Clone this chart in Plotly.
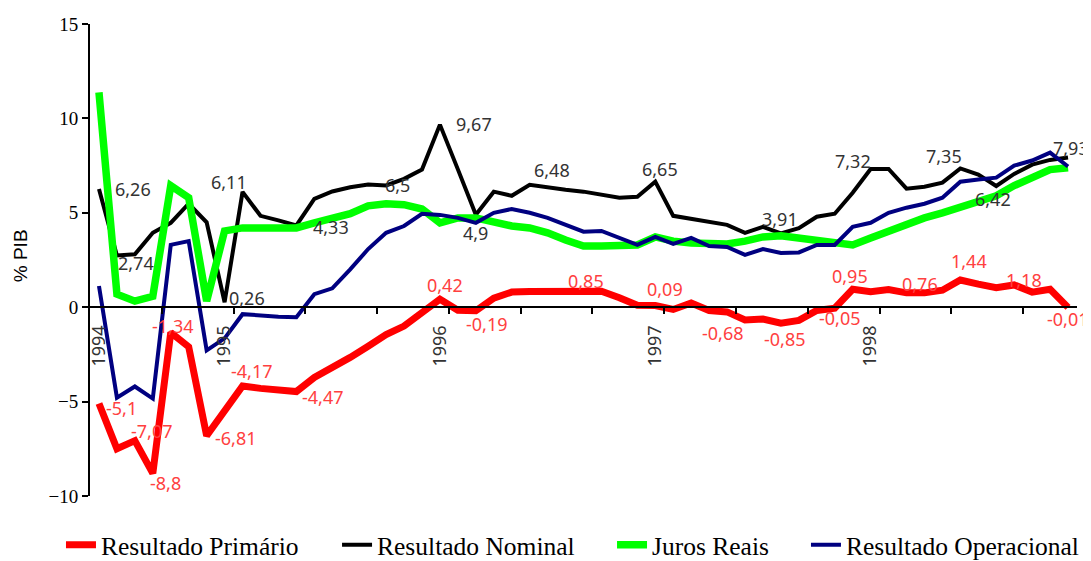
import plotly.graph_objects as go

# ---- data (monthly, Jun/1994 .. Dec/1998) ----
year_labels = ["1994", "1995", "1996", "1997", "1998"]
year_positions = [0, 7, 19, 31, 43]

primario = [-5.1, -7.5, -7.07, -8.8, -1.34, -2.1, -6.81, -5.5, -4.17, -4.3,
            -4.4, -4.47, -3.72, -3.24, -2.66, -2.07, -1.45, -1.0, -0.3, 0.42,
            -0.16, -0.19, 0.48, 0.8, 0.83, 0.82, 0.84, 0.85, 0.85, 0.5,
            0.1, 0.09, -0.12, 0.22, -0.18, -0.25, -0.68, -0.63, -0.85, -0.7,
            -0.17, -0.05, 0.95, 0.82, 0.93, 0.76, 0.76, 0.9, 1.44, 1.22,
            1.03, 1.18, 0.8, 0.95, -0.01]

nominal = [6.26, 2.74, 2.8, 3.94, 4.47, 5.48, 4.5, 0.26, 6.11, 4.84,
           4.6, 4.33, 5.74, 6.13, 6.35, 6.5, 6.45, 6.8, 7.29, 9.67,
           7.3, 4.9, 6.12, 5.9, 6.48, 6.33, 6.22, 6.12, 5.96, 5.8,
           5.85, 6.65, 4.84, 4.68, 4.57, 4.36, 3.94, 4.26, 3.91, 4.18,
           4.79, 4.95, 6.06, 7.32, 7.32, 6.28, 6.38, 6.6, 7.35, 7.02,
           6.42, 7.06, 7.55, 7.8, 7.93]

juros = [11.38, 0.69, 0.32, 0.58, 6.44, 5.8, 0.32, 4.04, 4.2, 4.2,
         4.2, 4.2, 4.47, 4.73, 4.95, 5.37, 5.48, 5.43, 5.2, 4.47,
         4.73, 4.73, 4.52, 4.3, 4.2, 3.94, 3.56, 3.24, 3.24, 3.24,
         3.3, 3.72, 3.5, 3.4, 3.35, 3.35, 3.5, 3.72, 3.78, 3.67,
         3.5, 3.46, 3.3, 3.67, 4.04, 4.41, 4.73, 5.0, 5.32, 5.58,
         5.9, 6.44, 6.91, 7.29, 7.39]

operacional = [1.12, -4.79, -4.2, -4.84, 3.3, 3.5, -2.29, -1.65, -0.37, -0.45,
               -0.5, -0.53, 0.69, 1.0, 2.0, 3.08, 3.94, 4.3, 4.95, 4.89,
               4.73, 4.47, 5.0, 5.2, 5.0, 4.73, 4.36, 4.0, 4.04, 3.67,
               3.3, 3.72, 3.35, 3.67, 3.24, 3.19, 2.77, 3.08, 2.87, 2.9,
               3.3, 3.3, 4.26, 4.47, 5.0, 5.27, 5.48, 5.8, 6.65, 6.76,
               6.86, 7.5, 7.77, 8.19, 7.45]

series_names = ["Resultado Primário", "Resultado Nominal", "Juros Reais", "Resultado Operacional"]

# labelled points: (index, xshift, yshift)
nominal_labels = [(0, 34, 0), (1, 19, -8), (7, 22, 4), (8, -14, 10), (11, 35, -2),
                  (15, 29, -1), (19, 34, 1), (21, 0, -18), (24, 22, 15), (31, 5, 13),
                  (38, -1, 14), (43, -18, 8), (48, -16, 12), (50, -3, -13), (54, 3, 9)]
primario_labels = [(0, 23, -5), (2, 17, 10), (3, 13, -10), (4, 2, 7), (6, 29, -2),
                   (8, 9, 15), (11, 27, -5), (19, 5, 14), (21, 11, -13), (27, 2, 10),
                   (31, 10, 17), (36, -22, -13), (38, 4, -16), (41, 5, -10), (42, -3, 13),
                   (45, 13, 9), (48, 9, 19), (51, 10, 5), (54, 0, -12)]

n = len(primario)
x = list(range(n))

fig = go.Figure()
styles = [
    (primario, "#ff0000", 7, "legend", -0.0294),
    (nominal, "#000000", 4, "legend2", 0.2503),
    (juros, "#00ff00", 7.5, "legend3", 0.5289),
    (operacional, "#000080", 4, "legend4", 0.7254),
]
for (vals, color, w, leg, _), name in zip(styles, series_names):
    fig.add_trace(go.Scatter(x=x, y=vals, mode="lines", name=name, legend=leg,
                             line=dict(color=color, width=w)))

def fmt(v):
    return f"{v:g}".replace(".", ",")

annotations = []
for idx, dx, dy in nominal_labels:
    annotations.append(dict(x=idx, y=nominal[idx], xref="x", yref="y", text=fmt(nominal[idx]),
                            showarrow=False, xshift=dx, yshift=dy,
                            font=dict(family="Noto Sans", size=18, color="#333333")))
for idx, dx, dy in primario_labels:
    annotations.append(dict(x=idx, y=primario[idx], xref="x", yref="y", text=fmt(primario[idx]),
                            showarrow=False, xshift=dx, yshift=dy,
                            font=dict(family="Noto Sans", size=18, color="#ff4040")))
annotations.append(dict(x=-0.0709, y=0.508, xref="paper", yref="paper", text="% PIB",
                        xanchor="center", yanchor="middle",
                        textangle=-90, showarrow=False,
                        font=dict(family="Liberation Sans", size=19, color="#000000")))

minor_ticks = [i + 3.5 for i in range(0, n - 3, 4)]

legend_common = dict(orientation="h", xanchor="left", y=-0.104, yanchor="middle",
                     font=dict(family="Liberation Serif", size=25.5, color="#000000"),
                     itemwidth=30, bgcolor="rgba(0,0,0,0)",
                     tracegroupgap=0)
legends = {}
for (_, _, _, leg, lx) in styles:
    legends[leg] = dict(legend_common, x=lx)

fig.update_layout(
    width=1083, height=553,
    margin=dict(l=82, r=14, t=16, b=65, autoexpand=False),
    paper_bgcolor="white", plot_bgcolor="white",
    showlegend=True,
    annotations=annotations,
    xaxis=dict(range=[-0.5, n - 0.5], anchor="free", position=0.4,
               showgrid=False, zeroline=False, showline=True, linecolor="#000000", linewidth=2,
               tickmode="array", tickvals=year_positions, ticktext=year_labels,
               tickangle=-90, ticks="", ticklabelstandoff=10,
               tickfont=dict(family="Noto Sans", size=18, color="#333333"),
               minor=dict(tickmode="array", tickvals=minor_ticks, ticks="outside",
                          ticklen=6, tickwidth=2, tickcolor="#000000")),
    yaxis=dict(range=[-10, 15], tickvals=[-10, -5, 0, 5, 10, 15],
               showgrid=False, zeroline=False, showline=True, linecolor="#000000", linewidth=2,
               ticks="outside", ticklen=6, tickwidth=2, tickcolor="#000000",
               tickfont=dict(family="Liberation Serif", size=19, color="#000000")),
    **legends,
)

fig.write_html("out.html")
